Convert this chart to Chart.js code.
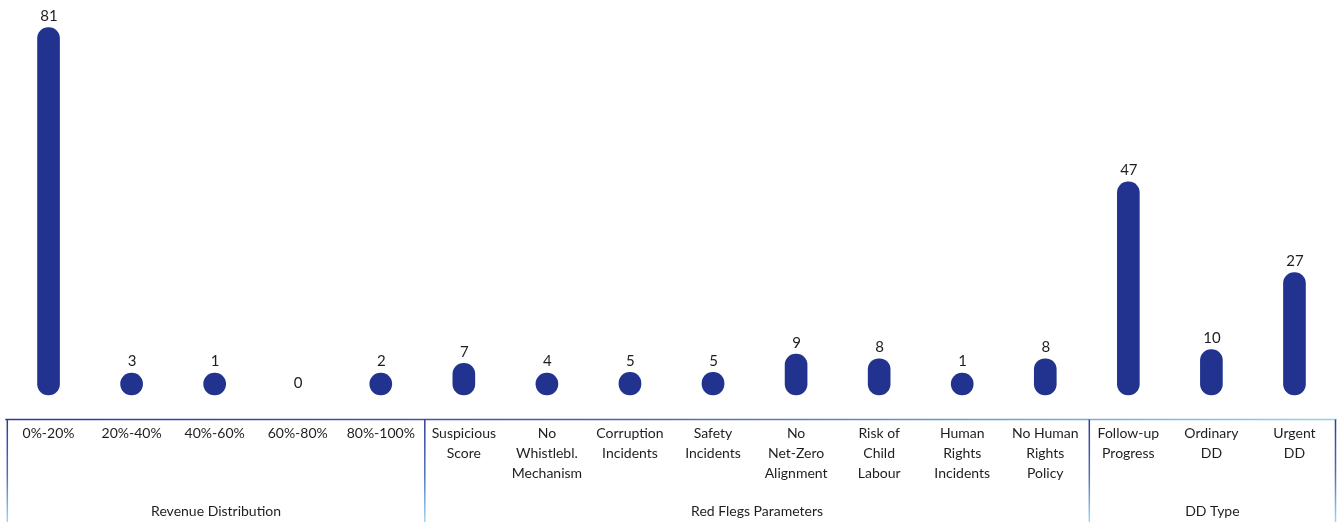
<!DOCTYPE html>
<html>
<head>
<meta charset="utf-8">
<script src="https://cdn.jsdelivr.net/npm/chart.js@4/dist/chart.umd.min.js"></script>
<style>
html,body{margin:0;padding:0;background:#fff;}
canvas{display:block;}
</style>
</head>
<body>
<canvas id="c" width="1338" height="522"></canvas>
<script>
const categories = ['0%-20%', '20%-40%', '40%-60%', '60%-80%', '80%-100%',
  ['Suspicious','Score'], ['No','Whistlebl.','Mechanism'], ['Corruption','Incidents'],
  ['Safety','Incidents'], ['No','Net-Zero','Alignment'], ['Risk of','Child','Labour'],
  ['Human','Rights','Incidents'], ['No Human','Rights','Policy'],
  ['Follow-up','Progress'], ['Ordinary','DD'], ['Urgent','DD']];
const values = [81, 3, 1, 0, 2, 7, 4, 5, 5, 9, 8, 1, 8, 47, 10, 27];
const groupNames = ['Revenue Distribution', 'Red Flegs Parameters', 'DD Type'];
const groupSizes = [5, 8, 3];

const FONT = 'Lato, "Noto Sans", sans-serif';
const BAR = '#21338e';
const TEXT = '#1e1e1e';

const decor = {
  id: 'decor',
  afterDatasetsDraw(chart) {
    const ctx = chart.ctx;
    const x = chart.scales.x, y = chart.scales.y;
    const meta = chart.getDatasetMeta(0);
    ctx.save();
    ctx.font = '15px ' + FONT;
    ctx.fillStyle = TEXT;
    ctx.textAlign = 'center';
    ctx.textBaseline = 'bottom';
    meta.data.forEach((el, i) => {
      const v = values[i];
      const top = v === 0 ? y.getPixelForValue(0) : el.y;
      ctx.fillText(String(v), el.x + 0.5, top - 4);
    });
    // axis lines
    const area = chart.chartArea;
    const yLine = area.bottom;
    const H = chart.height;
    const step = x.getPixelForValue(1) - x.getPixelForValue(0);
    const seps = [];
    let idx = 0;
    seps.push(x.getPixelForValue(0) - step / 2 + 0.3);
    groupSizes.forEach((n, gi) => {
      idx += n;
      const px = x.getPixelForValue(idx - 1) + step / 2;
      seps.push(gi === groupSizes.length - 1 ? px - 0.5 : px + 2.5);
    });
    const hg = ctx.createLinearGradient(seps[0], 0, seps[seps.length - 1], 0);
    hg.addColorStop(0, '#2c3b9b');
    hg.addColorStop(0.45, '#4660b4');
    hg.addColorStop(1, '#93d3ef');
    ctx.strokeStyle = hg;
    ctx.lineWidth = 1.5;
    ctx.beginPath();
    ctx.moveTo(seps[0] - 2, yLine);
    ctx.lineTo(seps[seps.length - 1] + 1, yLine);
    ctx.stroke();
    const vg = ctx.createLinearGradient(0, yLine, 0, H);
    vg.addColorStop(0, '#2c3b9b');
    vg.addColorStop(0.55, '#4e6fc0');
    vg.addColorStop(1, '#9ad9f1');
    ctx.strokeStyle = vg;
    seps.forEach(sx => {
      ctx.beginPath();
      ctx.moveTo(sx, yLine);
      ctx.lineTo(sx, H);
      ctx.stroke();
    });
    // group labels
    ctx.fillStyle = TEXT;
    ctx.textBaseline = 'middle';
    ctx.font = '14px ' + FONT;
    groupNames.forEach((g, gi) => {
      ctx.fillText(g, (seps[gi] + seps[gi + 1]) / 2, 511);
    });
    ctx.restore();
  }
};

new Chart(document.getElementById('c'), {
  type: 'bar',
  data: {
    labels: categories,
    datasets: [{
      data: values,
      backgroundColor: ctx => values[ctx.dataIndex] === 0 ? 'rgba(0,0,0,0)' : BAR,
      barThickness: 22,
      borderRadius: 11,
      borderSkipped: false,
      minBarLength: 22
    }]
  },
  options: {
    responsive: false,
    animation: false,
    devicePixelRatio: 1,
    layout: { padding: { left: 7, right: 2, top: 0, bottom: 0 } },
    plugins: { legend: { display: false }, tooltip: { enabled: false } },
    scales: {
      y: { display: false, min: -5.4, max: 87.1 },
      x: {
        grid: { display: false, drawTicks: false },
        border: { display: false },
        ticks: {
          autoSkip: false, maxRotation: 0, padding: 3.5,
          color: TEXT, font: { family: FONT, size: 14, lineHeight: '20px' }
        },
        afterFit(scale) { scale.height = 102.5; }
      }
    }
  },
  plugins: [decor]
});
</script>
</body>
</html>
